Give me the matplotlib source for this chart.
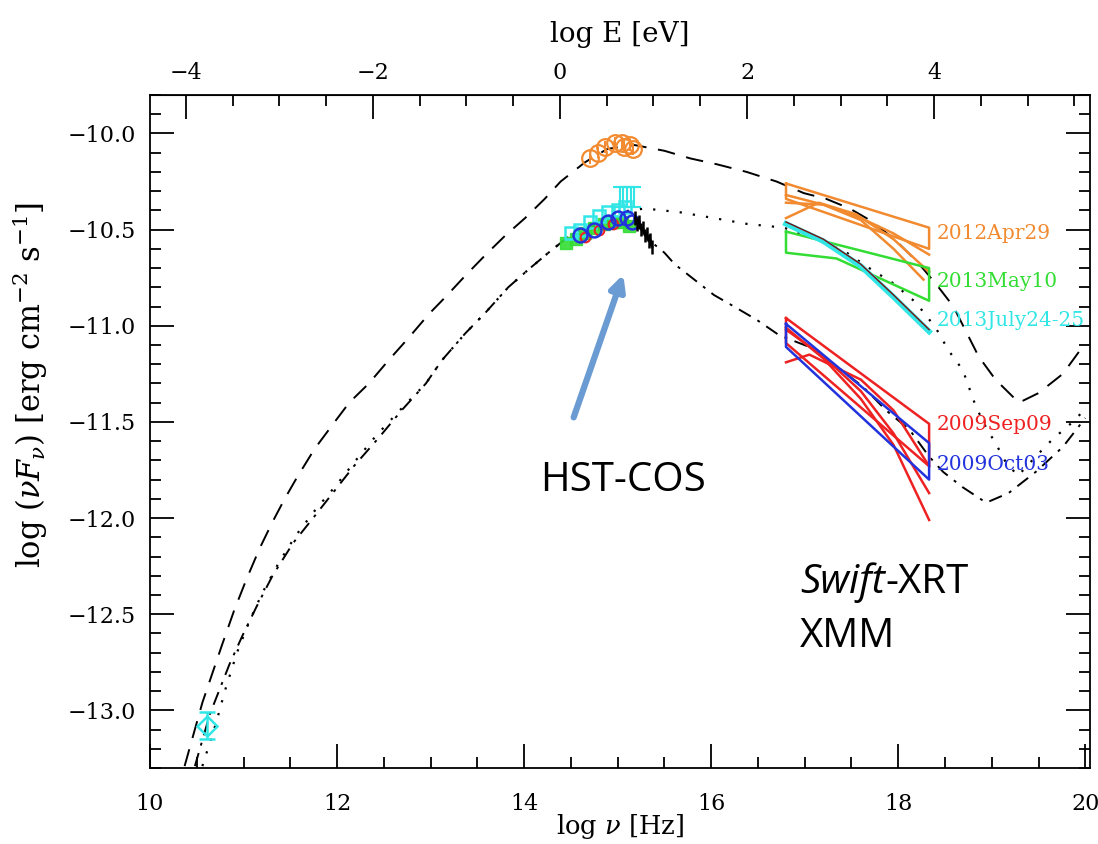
import numpy as np
import matplotlib
matplotlib.use('Agg')
import matplotlib.pyplot as plt
from matplotlib.ticker import MultipleLocator, FixedLocator, FuncFormatter

plt.rcParams['font.family'] = ['DejaVu Serif']
plt.rcParams['mathtext.fontset'] = 'dejavuserif'

# log h [eV s], converts log nu to log E
LOG_H = -14.383

# SED models (log nu, log nuFnu)
hi_x = [10.37, 10.56, 10.77, 10.90, 11.03, 11.17, 11.31, 11.44, 11.57, 11.76, 11.99, 12.13, 12.34,
        12.55, 12.77, 12.98, 13.16, 13.37, 13.59, 13.80, 14.01, 14.22, 14.39, 14.65, 14.89, 15.18,
        15.50, 15.78, 16.06, 16.38, 16.70, 16.99, 17.23, 17.48, 17.73, 17.98, 18.19, 18.40, 18.59,
        18.86, 19.04, 19.29, 19.50, 19.76, 20.0]
hi_y = [-13.29, -12.96, -12.66, -12.48, -12.32, -12.16, -12.02, -11.90, -11.79, -11.64, -11.49, -11.40, -11.30,
        -11.18, -11.06, -10.94, -10.85, -10.74, -10.63, -10.53, -10.44, -10.34, -10.25, -10.15, -10.08, -10.06,
        -10.09, -10.13, -10.16, -10.20, -10.25, -10.31, -10.34, -10.39, -10.46, -10.56, -10.66, -10.78, -10.90,
        -11.16, -11.28, -11.40, -11.35, -11.25, -11.09]

mid_x = [10.56, 10.71, 10.80, 10.93, 11.06, 11.20, 11.38, 11.56, 11.78, 11.99, 12.20, 12.42, 12.69,
         12.95, 13.12, 13.37, 13.59, 13.83, 14.04, 14.26, 14.44, 14.70, 15.00, 15.29, 15.67, 16.03,
         16.38, 16.78, 17.16, 17.42, 17.69, 17.95, 18.19, 18.40, 18.54, 18.69, 18.83, 18.94, 19.04,
         19.15, 19.28, 19.47, 19.65, 19.89, 20.0]
mid_y = [-13.29, -13.06, -12.90, -12.70, -12.54, -12.39, -12.23, -12.09, -11.95, -11.83, -11.70, -11.57, -11.43,
         -11.30, -11.18, -11.04, -10.93, -10.80, -10.71, -10.62, -10.55, -10.47, -10.41, -10.39, -10.41, -10.44,
         -10.47, -10.49, -10.56, -10.61, -10.70, -10.78, -10.88, -11.01, -11.13, -11.23, -11.42, -11.53, -11.61,
         -11.71, -11.78, -11.68, -11.59, -11.49, -11.43]

lo_x = [10.48, 10.64, 10.85, 10.99, 11.14, 11.31, 11.53, 11.76, 11.97, 12.18, 12.45, 12.69, 12.95,
        13.12, 13.37, 13.59, 13.83, 14.04, 14.26, 14.44, 14.75, 15.05, 15.25, 15.35, 15.50, 15.61,
        15.82, 16.03, 16.28, 16.49, 16.73, 17.05, 17.34, 17.63, 17.87, 18.12, 18.33, 18.48, 18.69,
        18.94, 19.18, 19.47, 19.76, 20.0]
lo_y = [-13.29, -13.02, -12.76, -12.61, -12.46, -12.30, -12.13, -11.99, -11.86, -11.73, -11.58, -11.44, -11.30,
        -11.18, -11.04, -10.93, -10.80, -10.71, -10.62, -10.55, -10.48, -10.43, -10.49, -10.56, -10.62, -10.68,
        -10.76, -10.84, -10.91, -10.97, -11.05, -11.11, -11.21, -11.32, -11.44, -11.54, -11.68, -11.76, -11.84,
        -11.92, -11.87, -11.76, -11.63, -11.48]

# optical / UV photometry
apr12_x = [14.70, 14.79, 14.87, 14.97, 15.05, 15.07, 15.13, 15.16]
apr12_y = [-10.13, -10.10, -10.07, -10.05, -10.05, -10.07, -10.06, -10.08]
may13_x = [14.45, 14.55, 14.65, 14.75, 14.85, 14.95, 15.05, 15.12]
may13_y = [-10.57, -10.55, -10.52, -10.49, -10.47, -10.46, -10.46, -10.48]
jul13_x = [14.50, 14.60, 14.70, 14.80, 14.90, 15.00, 15.08]
jul13_y = [-10.52, -10.50, -10.46, -10.43, -10.41, -10.40, -10.38]
cos_x = [15.02, 15.06, 15.10, 15.14, 15.18]
cos_y = [-10.33, -10.33, -10.33, -10.33, -10.33]
sep09_x = [14.65, 14.80, 14.95]
sep09_y = [-10.54, -10.50, -10.47]
oct09_x = [14.60, 14.75, 14.90, 15.00, 15.10, 15.15]
oct09_y = [-10.53, -10.50, -10.46, -10.44, -10.44, -10.46]
spec_x = [15.19, 15.21, 15.23, 15.25, 15.27, 15.29, 15.31, 15.33, 15.35, 15.37]
spec_y = [-10.44, -10.47, -10.46, -10.50, -10.49, -10.53, -10.52, -10.56, -10.55, -10.59]
radio_x = [10.61]
radio_y = [-13.08]

# X-ray bowties
apr12_bow_x = [16.80, 18.33, 18.33, 16.80, 16.80]
apr12_bow_y = [-10.26, -10.49, -10.60, -10.34, -10.26]
apr12_curves = [
    ([16.80, 17.15, 17.55, 17.95, 18.33], [-10.44, -10.36, -10.42, -10.55, -10.72]),
    ([16.80, 17.20, 17.60, 17.95, 18.33], [-10.32, -10.37, -10.44, -10.52, -10.63]),
    ([16.80, 17.20, 17.60, 17.95, 18.27], [-10.36, -10.37, -10.45, -10.60, -10.76]),
]
may13_bow_x = [16.80, 18.33, 18.33, 17.34, 16.80, 16.80]
may13_bow_y = [-10.51, -10.70, -10.87, -10.65, -10.62, -10.51]
jul13_curve_x = [16.80, 17.20, 17.60, 17.95, 18.33]
jul13_curve_y = [-10.47, -10.56, -10.69, -10.85, -11.03]
sep09_bow_x = [16.80, 18.33, 18.33, 16.80, 16.80]
sep09_bow_y = [-10.96, -11.51, -11.73, -11.09, -10.96]
sep09_curves = [
    ([16.80, 17.05, 17.60, 17.95, 18.33], [-11.19, -11.15, -11.28, -11.44, -11.73]),
    ([16.80, 17.20, 17.60, 17.95, 18.33], [-11.02, -11.16, -11.34, -11.56, -11.87]),
    ([16.80, 17.20, 17.60, 17.95, 18.33], [-11.01, -11.17, -11.38, -11.62, -12.01]),
]
oct09_bow_x = [16.80, 18.33, 18.33, 16.80, 16.80]
oct09_bow_y = [-10.99, -11.61, -11.80, -11.11, -10.99]

epochs = ['2012Apr29', '2013May10', '2013July24-25', '2009Sep09', '2009Oct03']
epoch_colors = ['#f28a30', '#33dd33', '#33e6e6', '#ee2222', '#2233dd']
label_y = [-10.52, -10.77, -10.97, -11.515, -11.72]

fig = plt.figure(figsize=(10.98, 8.44), dpi=100)
ax = fig.add_axes([0.1366, 0.090, 0.8561, 0.7974])

ax.plot(hi_x, hi_y, color='black', lw=1.4, dashes=(9, 6))
ax.plot(mid_x, mid_y, color='black', lw=1.6, dashes=(1, 5))
ax.plot(lo_x, lo_y, color='black', lw=1.4, dashes=(7, 4, 1.5, 4))

c_apr, c_may, c_jul, c_sep, c_oct = epoch_colors

# X-ray fits
ax.plot(apr12_bow_x, apr12_bow_y, color=c_apr, lw=1.8)
for cx, cy in apr12_curves:
    ax.plot(cx, cy, color=c_apr, lw=1.8)
ax.plot(may13_bow_x, may13_bow_y, color=c_may, lw=1.8)
ax.plot(jul13_curve_x, jul13_curve_y, color=c_jul, lw=4)
ax.plot(jul13_curve_x, np.array(jul13_curve_y) + 0.01, color='#7a1010', lw=1)
ax.plot(sep09_bow_x, sep09_bow_y, color=c_sep, lw=1.8)
for cx, cy in sep09_curves:
    ax.plot(cx, cy, color=c_sep, lw=1.8)
ax.plot(oct09_bow_x, oct09_bow_y, color=c_oct, lw=1.8)

# optical / UV
ax.plot(may13_x, may13_y, 's', color=c_may, ms=9, alpha=0.9)
ax.plot(jul13_x, jul13_y, 's', mfc='none', mec=c_jul, ms=9, mew=1.8)
ax.errorbar(cos_x, cos_y, yerr=0.05, fmt='none', ecolor=c_jul, elinewidth=1.5, capsize=5, capthick=1.5)
ax.plot(sep09_x, sep09_y, 'o', mfc='none', mec=c_sep, ms=7, mew=1.5)
ax.plot(oct09_x, oct09_y, 'o', mfc='none', mec=c_oct, ms=10, mew=1.8)
ax.errorbar(spec_x, spec_y, yerr=0.035, fmt='-', color='black', lw=1.6, elinewidth=1.8)
ax.errorbar(apr12_x, apr12_y, yerr=0.03, fmt='o', mfc='none', mec=c_apr, ecolor=c_apr,
            ms=12, mew=1.6, elinewidth=1.4)
ax.errorbar(radio_x, radio_y, yerr=0.07, fmt='D', mfc='none', mec=c_jul, ecolor=c_jul,
            ms=10, mew=1.8, elinewidth=1.8, capsize=6, capthick=1.8)

for name, col, ly in zip(epochs, epoch_colors, label_y):
    ax.text(18.41, ly, name, color=col, fontsize=14.5, va='center', ha='left', clip_on=False)

minus_fmt = FuncFormatter(lambda v, pos: ('%.1f' % v).replace('-', '\u2212'))
int_fmt = FuncFormatter(lambda v, pos: ('%d' % round(v)).replace('-', '\u2212'))

ax.set_xlim(10, 20.05)
ax.set_ylim(-13.3, -9.8)
ax.xaxis.set_major_locator(MultipleLocator(2))
ax.xaxis.set_minor_locator(MultipleLocator(0.5))
ax.xaxis.set_major_formatter(int_fmt)
ax.yaxis.set_major_locator(MultipleLocator(0.5))
ax.yaxis.set_minor_locator(MultipleLocator(0.1))
ax.yaxis.set_major_formatter(minus_fmt)
ax.tick_params(which='both', direction='in', labelsize=16, top=False, right=True, width=1.3)
ax.tick_params(which='major', length=17)
ax.tick_params(which='minor', length=8)
ax.tick_params(axis='x', which='major', pad=18)
ax.tick_params(axis='y', which='major', pad=10)
for s in ax.spines.values():
    s.set_linewidth(1.3)
ax.set_xlabel(r'log $\nu$ [Hz]', fontsize=18.5)
ax.xaxis.set_label_coords(0.5, -0.066)
ax.set_ylabel(r'log ($\nu F_\nu$) [erg cm$^{-2}$ s$^{-1}$]', fontsize=22)
ax.yaxis.set_label_coords(-0.106, 0.569)

top = ax.secondary_xaxis('top', functions=(lambda x: x + LOG_H, lambda e: e - LOG_H))
top.xaxis.set_major_locator(FixedLocator([-4, -2, 0, 2, 4]))
top.xaxis.set_minor_locator(FixedLocator(np.arange(-4.0, 5.51, 0.5)))
top.xaxis.set_major_formatter(int_fmt)
top.tick_params(which='both', direction='in', labelsize=16, width=1.3)
top.tick_params(which='major', length=17, pad=8)
top.tick_params(which='minor', length=8)
top.set_xlabel('log E [eV]', fontsize=20, labelpad=14)

# annotations
ax.annotate('', xy=(15.07, -10.72), xytext=(14.52, -11.49),
            arrowprops=dict(arrowstyle='-|>,head_length=0.9,head_width=0.45', color='#6a9bd2', lw=4.5))
ax.text(14.17, -11.86, 'HST-COS', fontsize=29, family='Open Sans', va='baseline')
swift = ax.text(16.95, -12.44, 'Swift', fontsize=29, family='Open Sans', style='italic', va='bottom')
ax.annotate('-XRT', xy=(1, 0), xycoords=swift, fontsize=29, family='Open Sans', va='bottom', ha='left')
ax.text(16.95, -12.72, 'XMM', fontsize=29, family='Open Sans', va='bottom')

fig.savefig('out.png', dpi=100)
